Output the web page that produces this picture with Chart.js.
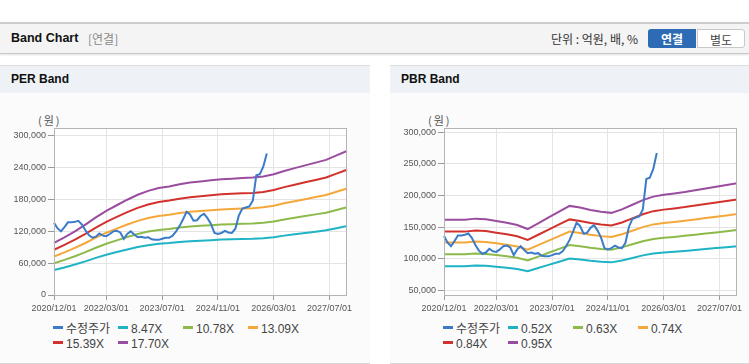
<!DOCTYPE html>
<html>
<head>
<meta charset="utf-8">
<script src="https://cdn.jsdelivr.net/npm/chart.js@4.4.0/dist/chart.umd.min.js"></script>
<style>
  body { margin: 0; width: 749px; height: 364px; background: #fff; position: relative; overflow: hidden;
         font-family: Arial, "Liberation Sans", "Noto Sans CJK KR", sans-serif; }
  #top { position: absolute; left: 0; top: 22px; width: 749px; height: 29px; background: #f4f4f4;
         border-top: 2px solid #cdcdcd; border-bottom: 1px solid #c8c8c8; box-shadow: 0 1px 2px rgba(0,0,0,0.12); }
  #top .title { position: absolute; left: 11px; top: 7px; font-size: 12.5px; font-weight: bold; color: #111; }
  #top .sub { position: absolute; left: 88px; top: 7px; font-size: 12px; color: #8a8a8a; font-family: "Noto Sans CJK KR", sans-serif; line-height: 15px; }
  #top .unit { position: absolute; left: 551px; top: 7px; font-size: 12px; color: #333; font-family: "Noto Sans CJK KR", sans-serif; line-height: 15px; }
  .btn { position: absolute; top: 5px; height: 19px; width: 48px; text-align: center; font-size: 12px; line-height: 19px;
         font-family: "Noto Sans CJK KR", sans-serif; box-sizing: border-box; }
  .btn.on { left: 648px; background: #2d6cb5; color: #fff; font-weight: bold; border-radius: 3px 0 0 3px; }
  .btn.off { left: 697px; background: #fff; color: #444; border: 1px solid #c8c8c8; border-radius: 0 3px 3px 0; }
  .panel { position: absolute; top: 65px; height: 297px; background: #fbfbfb; border-top: 1px solid #dcdcdc;
           border-bottom: 1px solid #d6d6d6; overflow: hidden; }
  .panel .head { height: 27px; background: #eef1f5; font-size: 12px; font-weight: bold; color: #111; padding-left: 11px; line-height: 27px; }
  .panel .won { position: absolute; left: 38px; top: 46px; font-size: 11px; color: #555; letter-spacing: 2px;
                font-family: "Noto Sans CJK KR", sans-serif; }
  .panel canvas { position: absolute; left: 0; top: 34px; }
  .legend { position: absolute; left: 53px; top: 256px; display: grid; grid-template-columns: repeat(4, 65px);
            grid-auto-rows: 15px; font-size: 12px; color: #444; }
  .legend .item { white-space: nowrap; line-height: 15px; font-family: Arial, "Noto Sans CJK KR", sans-serif; }
  .legend .item i { display: inline-block; width: 10px; height: 3px; margin-right: 3px; vertical-align: 4px; }
</style>
</head>
<body>
<div id="top">
  <span class="title">Band Chart</span><span class="sub">[연결]</span>
  <span class="unit">단위 : 억원, 배, %</span>
  <span class="btn on">연결</span><span class="btn off">별도</span>
</div>
<div class="panel" style="left:0;width:370px">
  <div class="head">PER Band</div>
  <div class="won">(원)</div>
  <canvas id="perChart" width="370" height="215"></canvas>
  <div class="legend" id="perLegend"></div>
</div>
<div class="panel" style="left:390px;width:359px">
  <div class="head">PBR Band</div>
  <div class="won">(원)</div>
  <canvas id="pbrChart" width="370" height="215"></canvas>
  <div class="legend" id="pbrLegend"></div>
</div>
<script>
// tick labels shown on the x axis
const xTickLabels = ['2020/12/01', '2022/03/01', '2023/07/01', '2024/11/01', '2026/03/01', '2027/07/01'];

// monthly categories 2020/12 .. 2027/12
const months = [];
for (let y = 2020, m = 12; y < 2028; ) {
    months.push(y + '/' + String(m).padStart(2, '0') + '/01');
    m++;
    if (m > 12) { m = 1; y++; }
}

// band points are quarterly
const bandDates = ['2020/12/01','2021/03/01','2021/06/01','2021/09/01','2021/12/01','2022/03/01','2022/06/01',
    '2022/09/01','2022/12/01','2023/03/01','2023/06/01','2023/09/01','2023/12/01','2024/03/01','2024/06/01',
    '2024/09/01','2024/12/01','2025/03/01','2025/06/01','2025/09/01','2025/12/01','2026/03/01','2026/06/01',
    '2026/09/01','2026/12/01','2027/03/01','2027/06/01','2027/09/01','2027/12/01'];

// 수정주가, monthly from 2020/12
const price = [136000,126000,120000,128000,137000,137000,138000,140000,133000,122000,
    113000,108000,110000,116000,112000,111000,115000,120000,121000,118000,
    106000,115000,120000,114000,109000,110000,108000,109000,105000,104000,
    104000,106000,108000,108000,112000,120000,130000,143000,157000,152000,
    140000,141000,149000,153000,145000,134000,117000,115000,117000,121000,
    118000,117000,125000,150000,163000,165000,167000,178000,226000,228000,
    242000,267000];

const perLabels = ['8.47X', '10.78X', '13.09X', '15.39X', '17.70X'];
const per847  = [47000,52000,57500,63500,70000,76000,81000,86000,90500,94000,96500,98000,100000,101500,102500,103500,104500,105000,105500,106000,107000,109000,112000,114500,117000,119500,122000,126000,130000];
const per1078 = [59800,66200,73200,80800,89100,96700,103100,109500,115200,119600,122800,124700,127300,129200,130500,131700,133000,133600,134300,134900,136200,138700,142500,145700,148900,152100,155300,160400,165500];
const per1309 = [72600,80400,88900,98100,108200,117500,125200,132900,139900,145300,149100,151500,154600,156900,158400,160000,161500,162300,163000,163800,165400,168500,173100,177000,180800,184700,188600,194700,200900];
const per1539 = [85400,94500,104500,115400,127200,138100,147200,156300,164400,170800,175300,178100,181700,184400,186200,188100,189900,190800,191700,192600,194400,198100,203500,208000,212600,217100,221700,228900,236200];
const per1770 = [98200,108700,120200,132700,146300,158800,169300,179700,189100,196400,201700,204800,209000,212100,214200,216300,218400,219400,220500,221500,223600,227800,234000,239300,244500,249700,254900,263300,271700];

const pbrLabels = ['0.52X', '0.63X', '0.74X', '0.84X', '0.95X'];
const pbr052 = [88500,88500,88500,89500,89000,87500,86000,84000,80500,85500,90500,95500,100500,99000,97000,95500,94500,97500,101500,105500,108500,110000,111200,112500,114000,115500,117000,118500,120000];
const pbr063 = [107200,107200,107200,108400,107800,106000,104200,101800,97500,103600,109600,115700,121800,119900,117500,115700,114500,118100,123000,127800,131400,133300,134700,136300,138100,139900,141700,143600,145400];
const pbr074 = [125900,125900,125900,127400,126700,124500,122400,119500,114600,121700,128800,135900,143000,140900,138000,135900,134500,138800,144400,150100,154400,156500,158200,160100,162200,164400,166500,168600,170800];
const pbr084 = [143000,143000,143000,144600,143800,141300,138900,135700,130000,138100,146200,154300,162300,159900,156700,154300,152700,157500,164000,170400,175300,177700,179600,181700,184200,186600,189000,191400,193800];
const pbr095 = [161700,161700,161700,163500,162600,159900,157100,153500,147100,156200,165300,174500,183600,180900,177200,174500,172600,178100,185400,192700,198200,201000,203200,205500,208300,211000,213700,216500,219200];

const perTicks = [0, 60000, 120000, 180000, 240000, 300000];
const pbrTicks = [50000, 100000, 150000, 200000, 250000, 300000];

const colors = ['#3b7bc8', '#1eb3c5', '#8cba4b', '#f5a83a', '#d2322d', '#9a4d9f'];

Chart.defaults.font.family = 'Arial, "Liberation Sans", sans-serif';
Chart.defaults.font.size = 9;
Chart.defaults.color = '#555';

const frame = {
    id: 'frame',
    beforeDraw(chart) {
        const a = chart.chartArea, c = chart.ctx;
        c.save();
        c.fillStyle = '#fff';
        c.fillRect(a.left, a.top, a.right - a.left, a.bottom - a.top);
        c.restore();
    },
    afterDraw(chart) {
        const a = chart.chartArea, c = chart.ctx;
        c.save();
        c.strokeStyle = '#b4b4b4';
        c.lineWidth = 1;
        c.strokeRect(Math.round(a.left) + 0.5, Math.round(a.top) + 0.5,
            Math.round(a.right - a.left) - 1, Math.round(a.bottom - a.top));
        c.restore();
    }
};

function makeChart(canvasId, legendId, bands, bandLabels, yMin, yMax, yTicks) {
    const datasets = [{ label: '수정주가', data: price, borderColor: colors[0] }];
    bands.forEach((b, k) => {
        datasets.push({
            label: bandLabels[k],
            data: bandDates.map((d, i) => ({ x: d, y: b[i] })),
            borderColor: colors[k + 1]
        });
    });
    datasets.forEach(ds => {
        ds.borderWidth = 2;
        ds.pointRadius = 0;
        ds.tension = 0;
        ds.fill = false;
    });

    const chart = new Chart(document.getElementById(canvasId), {
        type: 'line',
        data: { labels: months, datasets },
        options: {
            responsive: false,
            animation: false,
            layout: { padding: { top: 28, right: 23, left: 0, bottom: 0 } },
            plugins: { legend: { display: false }, tooltip: { enabled: false } },
            scales: {
                x: {
                    afterBuildTicks: s => {
                        s.ticks = s.ticks.filter(t => xTickLabels.includes(months[t.value]));
                    },
                    afterFit: s => { s.height = 20; },
                    ticks: { autoSkip: false, maxRotation: 0, padding: 3, color: '#555' },
                    grid: { color: '#e4e4e4', tickColor: '#999', tickLength: 5 },
                    border: { display: false }
                },
                y: {
                    min: yMin,
                    max: yMax,
                    afterBuildTicks: s => { s.ticks = yTicks.map(v => ({ value: v })); },
                    afterFit: s => { s.width = 54; },
                    ticks: { padding: 2, color: '#555', callback: v => v.toLocaleString('en-US') },
                    grid: { color: '#e4e4e4', tickColor: '#999', tickLength: 6 },
                    border: { display: false }
                }
            }
        },
        plugins: [frame]
    });

    const legend = document.getElementById(legendId);
    chart.data.datasets.forEach(ds => {
        const item = document.createElement('div');
        item.className = 'item';
        item.innerHTML = '<i style="background:' + ds.borderColor + '"></i>' + ds.label;
        legend.appendChild(item);
    });
}

makeChart('perChart', 'perLegend', [per847, per1078, per1309, per1539, per1770], perLabels, 0, 315000, perTicks);
makeChart('pbrChart', 'pbrLegend', [pbr052, pbr063, pbr074, pbr084, pbr095], pbrLabels, 43000, 306500, pbrTicks);
</script>
</body>
</html>
